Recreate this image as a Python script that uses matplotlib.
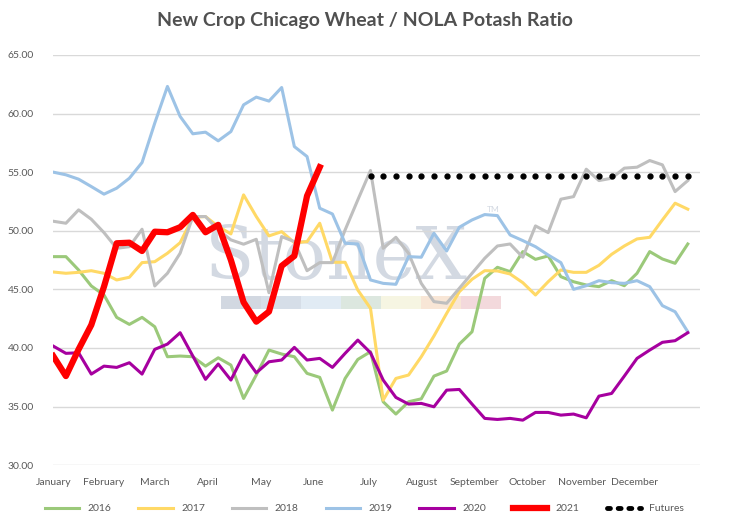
import matplotlib
matplotlib.use("Agg")
import matplotlib.pyplot as plt
from matplotlib.lines import Line2D
import numpy as np

plt.rcParams['font.family'] = ['Lato', 'DejaVu Sans']

months = ["January","February","March","April","May","June","July","August",
          "September","October","November","December"]
month_pos = [0, 4.0, 8.0, 12.2, 16.4, 20.5, 24.9, 29.1, 33.2, 37.4, 41.7, 45.8]

s2016 = [47.79,47.79,46.65,45.29,44.52,42.61,42.01,42.61,41.81,39.25,39.31,39.25,38.45,39.16,38.54,35.69,37.69,39.82,39.48,39.25,37.83,37.49,34.70,37.40,39.02,39.68,
         35.41,34.36,35.41,35.66,37.60,38.03,40.33,41.38,45.94,46.88,46.51,48.22,47.56,47.85,46.08,45.65,45.37,45.23,45.74,45.31,46.37,48.22,47.59,47.22,48.87]
s2017 = [46.48,46.37,46.45,46.59,46.37,45.80,46.03,47.28,47.36,48.08,48.98,51.15,51.21,50.36,49.73,53.06,51.21,49.56,49.92,48.98,49.07,50.64,47.31,47.31,44.94,43.38,
         35.55,37.40,37.69,39.25,41.02,42.95,44.80,45.86,46.59,46.57,46.31,45.57,44.52,45.65,46.65,46.45,46.45,47.05,47.99,48.70,49.30,49.44,50.92,52.35,51.84]
s2018 = [50.81,50.64,51.78,50.98,49.84,48.50,48.64,50.13,45.29,46.37,48.08,51.21,51.21,50.07,49.22,48.85,49.27,44.71,49.50,49.07,46.59,47.28,47.28,50.07,52.63,55.14,
         48.50,49.44,48.08,45.51,43.95,43.81,45.09,46.37,47.65,48.70,48.87,47.74,50.41,49.84,52.69,52.91,55.25,54.28,54.48,55.34,55.42,55.99,55.62,53.34,54.28]
s2019 = [55.00,54.77,54.40,53.77,53.12,53.63,54.48,55.82,59.18,62.31,59.75,58.27,58.41,57.67,58.46,60.74,61.40,61.06,62.22,57.18,56.33,51.92,51.43,48.93,48.87,
         45.80,45.51,45.43,47.79,47.74,49.79,48.27,50.30,50.92,51.38,51.29,49.64,49.16,48.64,47.93,47.28,45.00,45.31,45.74,45.57,45.51,45.74,45.23,43.61,43.09,41.38]
s2020 = [40.16,39.54,39.59,37.77,38.45,38.34,38.74,37.77,39.88,40.33,41.30,39.31,37.32,38.63,37.26,39.39,37.88,38.82,38.97,40.05,38.97,39.11,38.34,39.54,40.67,39.59,
         37.26,35.78,35.21,35.27,34.98,36.40,36.46,35.21,33.99,33.90,33.99,33.84,34.50,34.50,34.27,34.36,34.04,35.89,36.12,37.60,39.11,39.82,40.48,40.62,41.30]
s2021 = [39.31,37.60,39.88,41.96,45.23,48.93,48.98,48.27,49.92,49.87,50.30,51.35,49.87,50.50,47.50,43.90,42.24,43.10,47.00,47.85,52.97,55.42]
futures_start = 25
futures_val = 54.68

fig = plt.figure(figsize=(7.29, 5.28), dpi=100)
ax = fig.add_axes([0.073, 0.119, 0.887, 0.777])

# watermark
ax.text(22.3, 47.6, "StoneX", fontsize=52, family="DejaVu Serif", color="#d3d9e2",
        ha="center", va="center", zorder=0)
ax.text(34.2, 51.6, "TM", fontsize=6, color="#d3d9e2", zorder=0)
wm_cols = ["#d2d8e1", "#d6dee8", "#e1ebf4", "#dce7df", "#f6f5e2", "#f8e6d6", "#f3d9dc"]
for k, c in enumerate(wm_cols):
    ax.axvspan(13.2 + k * 3.15, 13.2 + (k + 1) * 3.15, ymin=(43.3 - 30) / 35, ymax=(44.4 - 30) / 35,
               color=c, zorder=0, lw=0)

x = np.arange(51)
ax.plot(x, s2016, color="#9bc97a", lw=2.2, label="2016")
ax.plot(x, s2017, color="#ffd966", lw=2.2, label="2017")
ax.plot(x, s2018, color="#bfbfbf", lw=2.2, label="2018")
ax.plot(x, s2019, color="#9dc3e6", lw=2.2, label="2019")
ax.plot(x, s2020, color="#a6009f", lw=2.2, label="2020")
ax.plot(np.arange(len(s2021)), s2021, color="#ff0000", lw=4.5, label="2021")
fx = np.arange(futures_start, 51)
ax.plot(fx, [futures_val] * len(fx), linestyle="none", marker="o", ms=3.5, color="black", label="Futures")

ax.set_xlim(0, 50.95)
ax.set_ylim(30, 65)
ax.set_yticks(np.arange(30, 66, 5))
ax.set_yticklabels([f"{v:.2f}" for v in np.arange(30, 66, 5)])
ax.set_xticks(month_pos)
ax.set_xticklabels(months)
ax.tick_params(axis="both", length=0, labelsize=7.5, colors="#595959")
ax.tick_params(axis="x", pad=9)
ax.tick_params(axis="y", pad=14)
ax.grid(axis="y", color="#d9d9d9", lw=1)
ax.set_axisbelow(True)
for sp in ax.spines.values():
    sp.set_visible(False)

fig.suptitle("New Crop Chicago Wheat / NOLA Potash Ratio", x=0.5, y=0.977,
             fontsize=14, fontweight="bold", color="#505050")
handles, labels = ax.get_legend_handles_labels()
handles[-1] = Line2D([], [], linestyle=":", color="black", lw=3.5, dashes=(0.6, 1.6), dash_capstyle="round")
leg = fig.legend(handles, labels, loc="lower center", ncol=7, frameon=False, bbox_to_anchor=(0.5, 0.01),
                 fontsize=7.5, handlelength=3.3, columnspacing=2.6, handletextpad=0.8)
for t in leg.get_texts():
    t.set_color("#595959")

fig.savefig("out.png", dpi=100)
